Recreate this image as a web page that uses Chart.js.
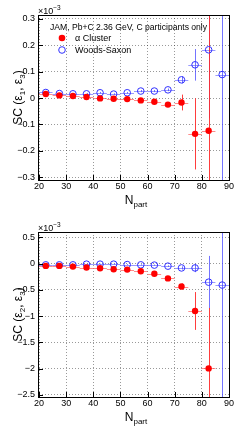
<!DOCTYPE html>
<html><head><meta charset="utf-8">
<script src="https://cdn.jsdelivr.net/npm/chart.js@4.4.1/dist/chart.umd.min.js"></script>
<style>
html,body{margin:0;padding:0;background:#fff;width:244px;height:430px;overflow:hidden}
.w{position:absolute;left:0;width:244px;height:215px}
</style></head><body>
<div class="w" style="top:0"><canvas id="c1" width="244" height="215"></canvas></div>
<div class="w" style="top:215px"><canvas id="c2" width="244" height="215"></canvas></div>
<script>
// ---- data ----
const xCenters = [22.5,27.5,32.5,37.5,42.5,47.5,52.5,57.5,62.5,67.5,72.5,77.5,82.5,87.5];
const xHalfWidth = 2.5;
const xTickValues = [20,30,40,50,60,70,80,90];

// SC(eps1, eps3), units of 1e-3
const topRed    = [0.015,0.010,0.0076,0.004,-0.0015,-0.003,-0.004,-0.009,-0.014,-0.025,-0.017,-0.136,-0.124];
const topRedErr = [0.003,0.003,0.003,0.003,0.003,0.003,0.004,0.004,0.005,0.006,0.03,0.135,0.5];
const topBlue    = [0.021,0.017,0.016,0.016,0.020,0.015,0.020,0.0265,0.0265,0.031,0.069,0.126,0.183,0.089];
const topBlueErr = [0.003,0.003,0.003,0.003,0.003,0.003,0.003,0.004,0.004,0.005,0.014,0.06,0.26,0.6];
const topYTickValues = [-0.3,-0.2,-0.1,0,0.1,0.2,0.3];
const topYTickLabels = ['\u22120.3','\u22120.2','\u22120.1','0','0.1','0.2','0.3'];

// SC(eps2, eps3), units of 1e-3
const botRed    = [-0.045,-0.045,-0.058,-0.077,-0.09,-0.109,-0.116,-0.147,-0.194,-0.283,-0.438,-0.903,-1.996];
const botRedErr = [0.01,0.01,0.01,0.01,0.01,0.012,0.012,0.015,0.02,0.025,0.06,0.36,1.15];
const botBlue    = [-0.025,-0.025,-0.025,-0.012,-0.012,-0.012,-0.02,-0.025,-0.03,-0.05,-0.084,-0.084,-0.355,-0.41];
const botBlueErr = [0.008,0.008,0.008,0.008,0.008,0.008,0.008,0.01,0.01,0.015,0.03,0.08,0.5,3.0];
const botYTickValues = [-2.5,-2,-1.5,-1,-0.5,0,0.5];
const botYTickLabels = ['\u22122.5','\u22122','\u22121.5','\u22121','\u22120.5','0','0.5'];

const seriesNames = ['\u03b1 Cluster','Woods-Saxon'];
const noteText = 'JAM, Pb+C 2.36 GeV, C participants only';

// ---- styles ----
const RED = '#ff0000', BLUE = '#3030ff';
const ERR_COLORS = [['rgba(255,40,40,0.9)','rgba(255,90,90,0.7)'], ['rgba(70,70,255,0.75)','rgba(110,110,255,0.7)']]; // [vertical, horizontal]
const FONT = '"Liberation Sans", Arial, sans-serif';

function pts(xs, ys){ return ys.map((y,i)=>({x:xs[i], y:y})); }

const errorBars = {
  id:'errorBars',
  beforeDatasetsDraw(chart){
    const ctx = chart.ctx, a = chart.chartArea;
    const xs = chart.scales.x, ys = chart.scales.y;
    ctx.save();
    ctx.beginPath(); ctx.rect(a.left, a.top, a.right-a.left, a.bottom-a.top); ctx.clip();
    ctx.lineWidth = 1; ctx.setLineDash([]);
    [1,0].forEach(k=>{
      const ds = chart.data.datasets[k];
      const errs = k===0 ? chart.$redErr : chart.$blueErr;
      ds.data.forEach((p,i)=>{
        const px = xs.getPixelForValue(p.x), py = ys.getPixelForValue(p.y);
        const x0 = xs.getPixelForValue(p.x - xHalfWidth), x1 = xs.getPixelForValue(p.x + xHalfWidth);
        const e = errs[i];
        const y0 = ys.getPixelForValue(p.y + e), y1 = ys.getPixelForValue(p.y - e);
        ctx.strokeStyle = ERR_COLORS[k][1];
        ctx.beginPath();
        ctx.moveTo(x0, Math.round(py)+0.5); ctx.lineTo(x1, Math.round(py)+0.5);
        ctx.stroke();
        ctx.strokeStyle = ERR_COLORS[k][0];
        ctx.beginPath();
        ctx.moveTo(Math.round(px)+0.5, y0); ctx.lineTo(Math.round(px)+0.5, y1);
        ctx.stroke();
      });
    });
    ctx.restore();
  }
};

function decorPlugin(opts){
  return {
    id:'decor',
    afterDraw(chart){
      const ctx = chart.ctx, a = chart.chartArea;
      const xs = chart.scales.x, ys = chart.scales.y;
      ctx.save();
      ctx.setLineDash([]);
      ctx.strokeStyle = '#000'; ctx.lineWidth = 1;
      ctx.strokeRect(Math.round(a.left)-0.5, Math.round(a.top)+0.5, Math.round(a.right-a.left)+1, Math.round(a.bottom-a.top));
      ctx.beginPath();
      xTickValues.forEach(v=>{ const p=Math.round(xs.getPixelForValue(v))+0.5; ctx.moveTo(p,a.bottom); ctx.lineTo(p,a.bottom-5); });
      opts.yTicks.forEach(v=>{ const p=Math.round(ys.getPixelForValue(v))+0.5; ctx.moveTo(a.left,p); ctx.lineTo(a.left+4,p); });
      ctx.stroke();
      ctx.fillStyle = '#000';
      ctx.textBaseline = 'alphabetic'; ctx.textAlign = 'left';
      ctx.font = '9px ' + FONT;
      ctx.fillText('\u00d710', a.left-1, a.top-1.5);
      const w = ctx.measureText('\u00d710').width;
      ctx.font = '6.5px ' + FONT;
      ctx.fillText('\u22123', a.left-1+w, a.top-5.5);
      const cx = (a.left + a.right)/2 + 2;
      ctx.font = '12px ' + FONT;
      const nw = ctx.measureText('N').width;
      ctx.font = '8px ' + FONT;
      const sw = ctx.measureText('part').width;
      const sx = cx - (nw+sw)/2;
      ctx.font = '12px ' + FONT;
      ctx.fillText('N', sx, a.bottom + 24);
      ctx.font = '8px ' + FONT;
      ctx.fillText('part', sx+nw, a.bottom + 27);
      ctx.translate(21.5, (a.top+a.bottom)/2);
      ctx.rotate(-Math.PI/2);
      const parts = [['SC (\u03b5',12,0],[opts.s1,8,3],[', \u03b5',12,0],['3',8,3],[')',12,0]];
      let tw = 0;
      parts.forEach(p=>{ ctx.font = p[1]+'px '+FONT; tw += ctx.measureText(p[0]).width; });
      let tx = -tw/2;
      parts.forEach(p=>{ ctx.font = p[1]+'px '+FONT; ctx.fillText(p[0], tx, p[2]); tx += ctx.measureText(p[0]).width; });
      ctx.restore();
      if (opts.legend){
        ctx.save();
        ctx.fillStyle = '#000';
        ctx.font = '8.6px ' + FONT; ctx.textBaseline = 'middle'; ctx.textAlign = 'left';
        ctx.fillText(noteText, 50, 27.5);
        ctx.font = '9px ' + FONT;
        ctx.fillText(seriesNames[0], 75, 38.5);
        ctx.fillText(seriesNames[1], 75, 50.5);
        ctx.beginPath(); ctx.arc(62, 38, 3.3, 0, Math.PI*2); ctx.fillStyle = RED; ctx.fill();
        ctx.beginPath(); ctx.arc(62, 50, 3.3, 0, Math.PI*2); ctx.strokeStyle = BLUE; ctx.lineWidth = 1; ctx.stroke();
        ctx.restore();
      }
    }
  };
}

function makeChart(id, red, redErr, blue, blueErr, yMin, yMax, yTicks, yLabels, padTop, s1, legend){
  const ch = new Chart(document.getElementById(id), {
    type:'scatter',
    data:{ datasets:[
      { label:seriesNames[0], data:pts(xCenters, red), order:0,
        pointStyle:'circle', pointRadius:3.2, pointBackgroundColor:RED, pointBorderColor:RED, pointBorderWidth:0, showLine:false },
      { label:seriesNames[1], data:pts(xCenters, blue), order:1,
        pointStyle:'circle', pointRadius:3.3, pointBackgroundColor:'rgba(0,0,0,0)', pointBorderColor:BLUE, pointBorderWidth:1, showLine:false }
    ]},
    options:{
      responsive:false, animation:false, devicePixelRatio:1,
      layout:{ padding:{ top:padTop, right:15, left:0, bottom:0 } },
      plugins:{ legend:{display:false}, tooltip:{enabled:false}, title:{display:false} },
      scales:{
        x:{ type:'linear', min:20, max:90,
            afterBuildTicks(s){ s.ticks = xTickValues.map(v=>({value:v})); },
            afterFit(s){ s.height = 35 - (padTop-15); },
            grid:{ color:'rgba(0,0,0,0.4)', drawTicks:false, lineWidth:1 },
            border:{ display:false, dash:[1,2] },
            ticks:{ padding:1.5, font:{size:9, family:FONT}, color:'#000', maxRotation:0, autoSkip:false,
                    callback:(v)=>String(v) } },
        y:{ type:'linear', min:yMin, max:yMax,
            afterBuildTicks(s){ s.ticks = yTicks.map(v=>({value:v})); },
            afterFit(s){ s.width = 39; },
            grid:{ color:'rgba(0,0,0,0.4)', drawTicks:false, lineWidth:1 },
            border:{ display:false, dash:[1,2] },
            ticks:{ padding:4, font:{size:9, family:FONT}, color:'#000', autoSkip:false,
                    callback:(v)=>{ const i = yTicks.findIndex(t=>Math.abs(t-v)<1e-9); return i>=0 ? yLabels[i] : ''; } } }
      }
    },
    plugins:[{id:'errInit', beforeInit(c){ c.$redErr = redErr; c.$blueErr = blueErr; }}, errorBars, decorPlugin({yTicks:yTicks, s1:s1, legend:legend})]
  });
  return ch;
}

makeChart('c1', topRed, topRedErr, topBlue, topBlueErr, -0.311, 0.315, topYTickValues, topYTickLabels, 15, '1', true);
makeChart('c2', botRed, botRedErr, botBlue, botBlueErr, -2.54, 0.6, botYTickValues, botYTickLabels, 17, '2', false);
</script></body></html>
